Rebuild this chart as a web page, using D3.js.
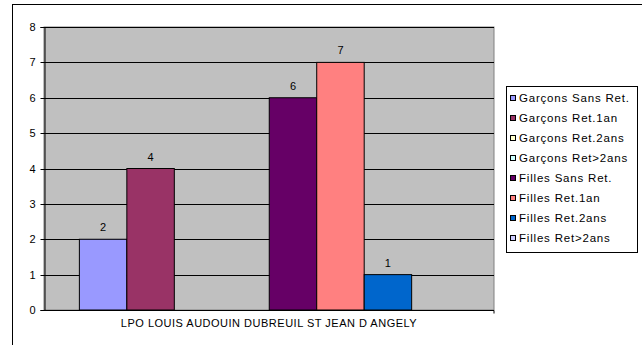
<!DOCTYPE html>
<html><head><meta charset="utf-8">
<script src="https://cdn.jsdelivr.net/npm/d3@7"></script>
<style>body{margin:0;background:#fff;overflow:hidden}svg{display:block}text{font-family:"Liberation Sans",Arial,sans-serif}</style>
</head><body>
<svg id="c" width="642" height="345"></svg>
<script>
const categories = ["LPO LOUIS AUDOUIN DUBREUIL ST JEAN D ANGELY"];
const seriesNames = ["Garçons Sans Ret.","Garçons Ret.1an","Garçons Ret.2ans","Garçons Ret>2ans","Filles Sans Ret.","Filles Ret.1an","Filles Ret.2ans","Filles Ret>2ans"];
const seriesValues = [2,4,0,0,6,7,1,0];
const seriesColors = ["#9999FF","#993366","#FFFFCC","#CCFFFF","#660066","#FF8080","#0066CC","#CCCCFF"];
const yTicks = [0,1,2,3,4,5,6,7,8];

const svg = d3.select("#c");
// outer chart border (right and bottom edges fall outside the window)
svg.append("rect").attr("x",12.5).attr("y",4.5).attr("width",700).attr("height",400)
  .attr("fill","#fff").attr("stroke","#000").attr("stroke-width",1);

const L=44, R=494, T=27, B=310;
const y = d3.scaleLinear().domain([0,8]).range([B,T]);
const x0 = d3.scaleBand().domain(categories).range([L,R]).paddingInner(0).paddingOuter(0);
const groupPad = 0.155;
const x1 = d3.scaleBand().domain(seriesNames)
  .range([x0(categories[0]) + x0.bandwidth()*groupPad/2 + 0.5, x0(categories[0]) + x0.bandwidth()*(1-groupPad/2)]);

svg.append("rect").attr("x",L).attr("y",T).attr("width",R-L).attr("height",B-T)
  .attr("fill","#C0C0C0").attr("stroke","#808080").attr("stroke-width",1);

// gridlines
svg.append("g").selectAll("line").data(yTicks.filter(d=>d>0)).join("line")
  .attr("x1",L).attr("x2",R).attr("y1",d=>Math.round(y(d))+0.5).attr("y2",d=>Math.round(y(d))+0.5)
  .attr("stroke","#000").attr("stroke-width",1);

// y axis
const ya = svg.append("g").attr("transform",`translate(${L+0.5},0)`)
  .call(d3.axisLeft(y).tickValues(yTicks).tickSize(4).tickPadding(5).tickFormat(d3.format("d")));
ya.select(".domain").attr("stroke","#000");
ya.selectAll(".tick line").attr("stroke","#000");
ya.selectAll("text").attr("font-size",11).attr("fill","#000").attr("font-family","Liberation Sans, Arial, sans-serif");
ya.selectAll(".tick").attr("transform",d=>`translate(0,${Math.round(y(d))+0.5})`);

// bars
const data = seriesNames.map((s,i)=>({s, v:seriesValues[i], c:seriesColors[i]}));
svg.append("g").selectAll("rect").data(data.filter(d=>d.v>0)).join("rect")
  .attr("x",d=>x1(d.s)).attr("width",x1.bandwidth())
  .attr("y",d=>y(d.v)).attr("height",d=>y(0)-y(d.v))
  .attr("fill",d=>d.c).attr("stroke","#000").attr("stroke-width",1);

// labels
svg.append("g").selectAll("text").data(data.filter(d=>d.v>0)).join("text")
  .attr("x",d=>x1(d.s)+x1.bandwidth()/2).attr("y",d=>y(d.v)-8)
  .attr("text-anchor","middle").attr("font-size",11).attr("fill","#000").text(d=>d.v);

// x axis
const xa = svg.append("g").attr("transform",`translate(0,${B+0.5})`)
  .call(d3.axisBottom(x0).tickSize(0).tickPadding(9));
xa.select(".domain").attr("stroke","#000").attr("d",`M${L},0H${R}V3`);
xa.selectAll("text").attr("font-size",11).attr("fill","#000").attr("letter-spacing","0.5").attr("font-family","Liberation Sans, Arial, sans-serif");

// legend
const lg = svg.append("g");
lg.append("rect").attr("x",506.5).attr("y",86.5).attr("width",131).attr("height",166)
  .attr("fill","#fff").attr("stroke","#000").attr("stroke-width",1);
const ly = d3.scalePoint().domain(seriesNames).range([98,237.5]);
lg.selectAll("rect.sw").data(data).join("rect").attr("class","sw")
  .attr("x",510.5).attr("y",d=>Math.round(ly(d.s))-2.5).attr("width",5).attr("height",5)
  .attr("fill",d=>d.c).attr("stroke","#000").attr("stroke-width",1);
lg.selectAll("text").data(data).join("text")
  .attr("x",519).attr("y",d=>ly(d.s)+4).attr("font-size",11.5).attr("letter-spacing","0.8").attr("fill","#000").text(d=>d.s);
</script>
</body></html>
